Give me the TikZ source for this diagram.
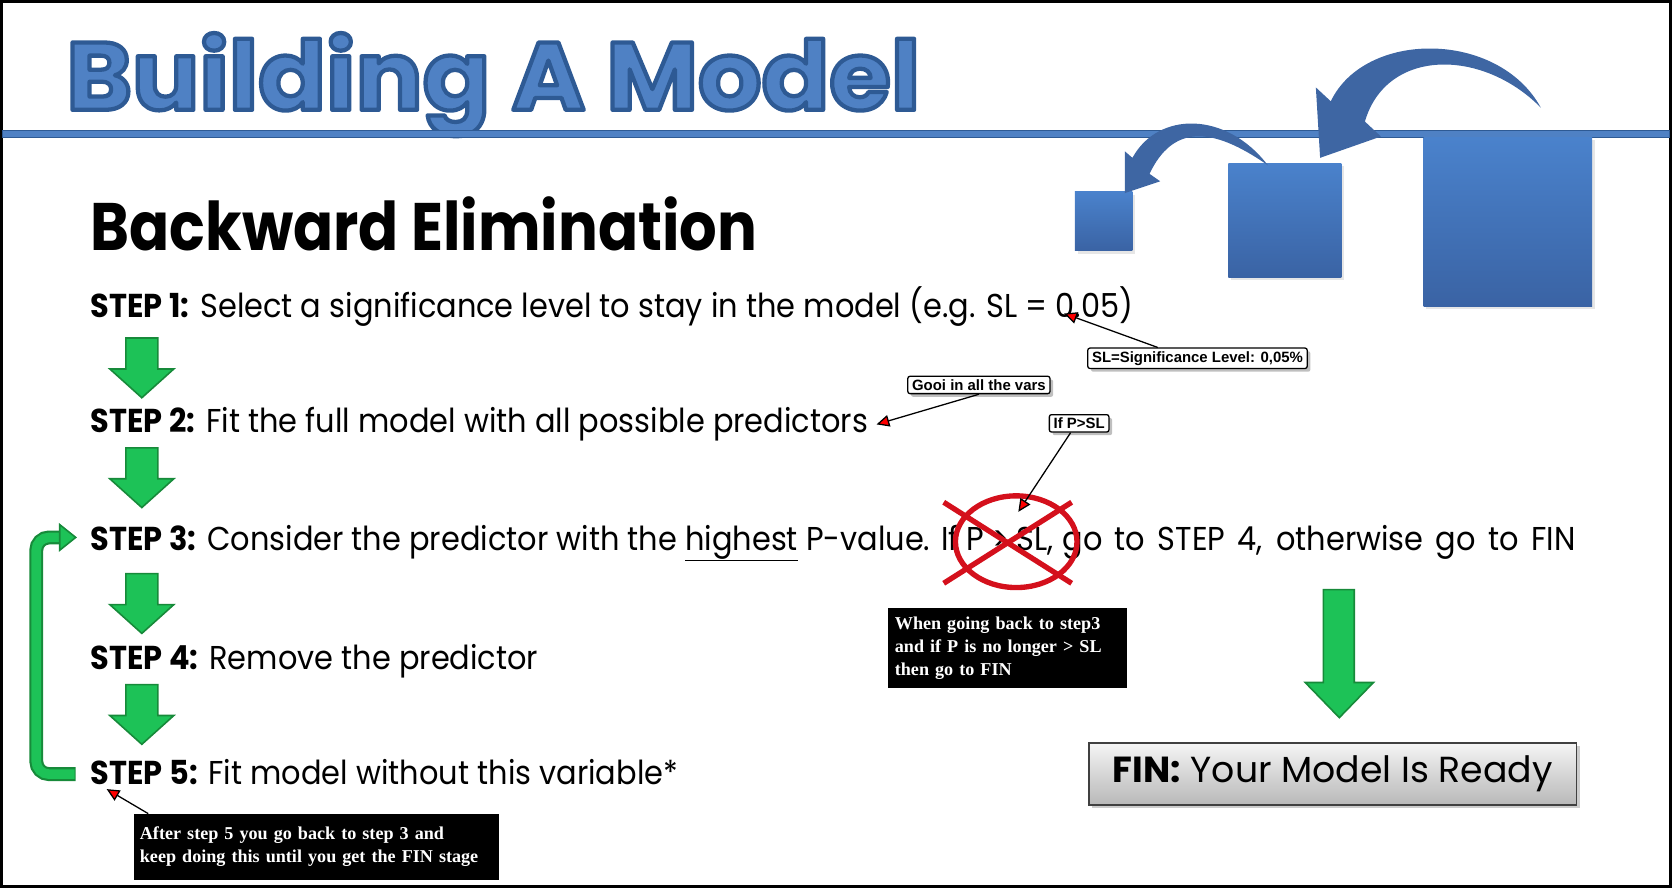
\documentclass[tikz,border=0pt]{standalone}
\usepackage{fontspec}
\setmainfont{Poppins}
\newfontfamily\titlefont{Poppins}[FakeStretch=1.04]
\newfontfamily\headfont{Poppins}[FakeStretch=0.88]
\newfontfamily\stepfont{Poppins}[FakeStretch=0.92]
\newfontfamily\calloutfont{Liberation Sans}
\newfontfamily\notefont{Liberation Serif}
\usetikzlibrary{arrows.meta,shadows,calc}

\definecolor{titleblue}{HTML}{4F81C4}
\definecolor{titleedge}{HTML}{2E5A94}
\definecolor{boxtop}{HTML}{4A82CC}
\definecolor{boxbot}{HTML}{3A63A4}
\definecolor{curveblue}{HTML}{3E66A3}
\definecolor{greenfill}{HTML}{1DC257}
\definecolor{greenedge}{HTML}{178A3A}
\definecolor{crossred}{HTML}{D4101C}

\begin{document}
\begin{tikzpicture}[x=1pt,y=-1pt,
steptext/.style={anchor=base west, inner sep=0, font=\stepfont\fontsize{31}{38}\selectfont},
greenarrow/.style={draw=greenedge, fill=greenfill, line width=1.5, line join=miter},
callout/.style={draw=black, line width=1.2, fill=white, rounded corners=2, inner xsep=4, inner ysep=3, font=\calloutfont\bfseries\fontsize{14}{16}\selectfont, drop shadow={shadow xshift=3pt, shadow yshift=-3pt, opacity=0.5}},
pointer/.style={line width=1.2, -{Triangle[width=11pt,length=12pt,fill=red]}},
note/.style={fill=black, text=white, inner xsep=6, inner ysep=4, align=left, anchor=north west, font=\notefont\bfseries\fontsize{17}{21.5}\selectfont},
]
\useasboundingbox (0,0) rectangle (1568,833);
\draw[line width=3] (1.5,1.5) rectangle (1566.5,831.5);

%Title
\node[anchor=base west, inner sep=0, text=titleblue, font=\titlefont\bfseries\fontsize{90}{100}\selectfont] (title) at (62,103)
  {\special{pdf:literal direct q 2 Tr 4 w 1 j 0.180 0.353 0.580 RG}Building A Model\special{pdf:literal direct Q}};
\draw[fill=titleblue, draw=titleedge, line width=1] (2,122) rectangle (1566,129);

%Squares and curved arrows
\shade[top color=boxtop, bottom color=boxbot, drop shadow={opacity=0.2}] (1008,180) rectangle (1062,235);
\shade[top color=boxtop, bottom color=boxbot, drop shadow={opacity=0.2}] (1152,153) rectangle (1258,260);
\shade[top color=boxtop, bottom color=boxbot, drop shadow={opacity=0.2}] (1335,129) rectangle (1493,287);
\fill[curveblue] (1445,101) .. controls (1405,28) and (1280,28) .. (1248,95) -- (1234,82) -- (1238,148) -- (1295,128) -- (1280,114) .. controls (1300,45) and (1390,45) .. (1445,101) -- cycle;
\fill[curveblue] (1189,155) .. controls (1150,104) and (1086,104) .. (1062,148) -- (1055,142) -- (1055,181) -- (1088,170) -- (1078,163) .. controls (1100,117) and (1136,118) .. (1189,155) -- cycle;

%Steps
\node[anchor=base west, inner sep=0, font=\headfont\bfseries\fontsize{63}{70}\selectfont] (heading) at (85,235) {Backward Elimination};
\node[steptext] (s1) at (85,298) {\textbf{STEP 1:} Select a significance level to stay in the model (e.g. SL = 0.05)};
\node[steptext] (s2) at (85,406) {\textbf{STEP 2:} Fit the full model with all possible predictors};
\node[steptext] (s3) at (85,516) {\textbf{STEP 3:} Consider the predictor with the \underline{highest} P-value. If P > SL,\hspace{8pt}\makebox[481pt][s]{go to STEP 4, otherwise go to FIN}};
\node[steptext] (s4) at (85,628) {\textbf{STEP 4:} Remove the predictor};
\node[steptext] (s5) at (85,736) {\textbf{STEP 5:} Fit model without this variable*};

%Arrows
\foreach \y in {317,420,538,642}
  \draw[greenarrow] (118,\y) -- (148,\y) -- (148,\y+29) -- (163,\y+29) -- (133,\y+56) -- (103,\y+29) -- (118,\y+29) -- cycle;
\draw[greenarrow] (1241,553) -- (1270,553) -- (1270,640) -- (1288,640) -- (1256,673) -- (1224,640) -- (1241,640) -- cycle;
\coordinate (loopstart) at ($(s5.base west)+(-14,-10)$);
\coordinate (loopend) at ($(s3.base west)+(-25,-12)$);
\draw[greenedge, line width=13, rounded corners=12] (loopstart) -- ++(-37,0) |- (loopend);
\draw[greenfill, line width=9, rounded corners=12] ($(loopstart)+(-1,0)$) -- ++(-36,0) |- ($(loopend)+(1,0)$);
\draw[greenarrow] ($(loopend)+(-4,-12)$) -- ($(loopend)+(11,0)$) -- ($(loopend)+(-4,12)$) -- cycle;

%Cross
\draw[crossred, line width=5] (953,508) ellipse [x radius=57pt, y radius=43pt];
\draw[crossred, line width=5] (885,471) -- (1005,547);
\draw[crossred, line width=5] (885,547) -- (1005,471);

%Callouts
\node[callout] (cSL) at (1123,336) {SL=Significance Level: 0,05\%};
\node[callout] (cGooi) at (918,361) {Gooi in all the vars};
\node[callout] (cIf) at (1012,397) {If P>SL};
\coordinate (tSL) at (998,294);
\coordinate (tGooi) at (822,398);
\coordinate (tIf) at (955,480);
\draw[pointer] ($(cSL.north west)!0.32!(cSL.north east)$) -- (tSL);
\draw[pointer] (cGooi.south) -- (tGooi);
\draw[pointer] ($(cIf.south west)!0.36!(cIf.south east)$) -- (tIf);

%Notes
\node[note, text width=212pt, minimum height=75pt] (nBack) at (833,570) {When going back to step3\\and if P is no longer > SL\\then go to FIN};
\node[note, text width=331pt, minimum height=62pt] (nLoop) at (125,763) {After step 5 you go back to step 3 and\\keep doing this until you get the FIN stage};
\coordinate (tLoop) at (100,740);
\draw[pointer] ($(nLoop.north west)+(14,0)$) -- (tLoop);

%FIN
\node[draw=black!75, line width=1.5, top color=black!4, bottom color=black!28, minimum width=457pt, minimum height=58pt, font=\fontsize{34}{40}\selectfont, drop shadow={opacity=0.4}] (fin) at (1250,726) {\textbf{FIN:} Your Model Is Ready};

\end{tikzpicture}
\end{document}
